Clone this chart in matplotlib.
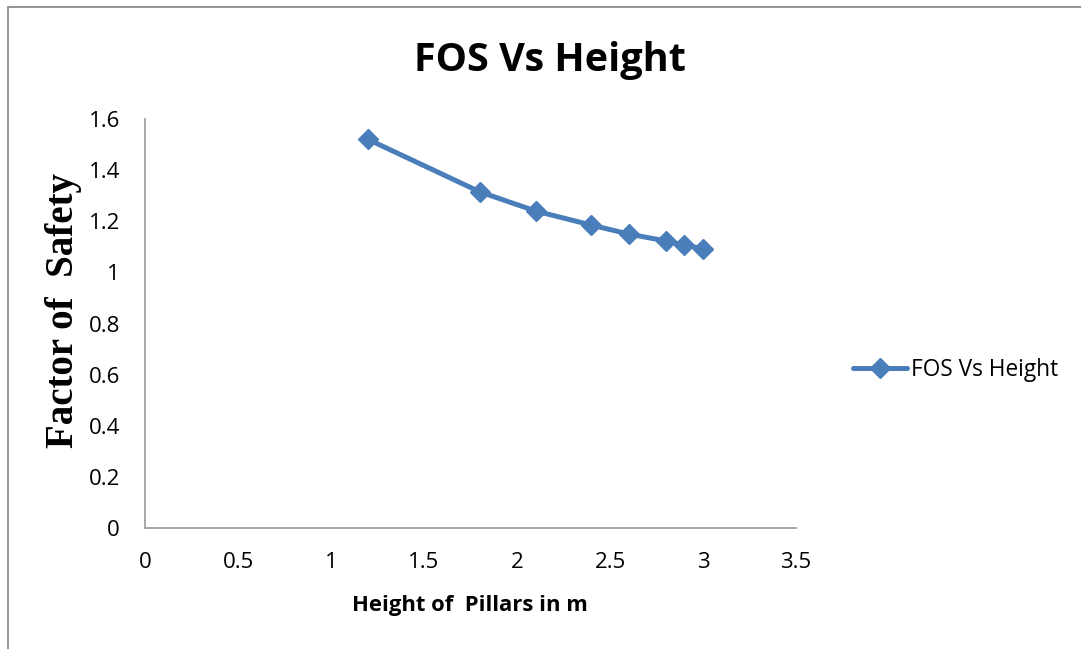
import matplotlib
matplotlib.use("Agg")
import matplotlib.pyplot as plt
from matplotlib.patches import Rectangle

# Pillar height (m) and the computed factor of safety
height_m = [1.2, 1.8, 2.1, 2.4, 2.6, 2.8, 2.9, 3.0]
fos = [1.52, 1.315, 1.24, 1.185, 1.15, 1.123, 1.107, 1.092]

x_ticks = [0, 0.5, 1, 1.5, 2, 2.5, 3, 3.5]
x_tick_labels = ["0", "0.5", "1", "1.5", "2", "2.5", "3", "3.5"]
y_ticks = [0, 0.2, 0.4, 0.6, 0.8, 1.0, 1.2, 1.4, 1.6]
y_tick_labels = ["0", "0.2", "0.4", "0.6", "0.8", "1", "1.2", "1.4", "1.6"]

title = "FOS Vs Height"
series_name = "FOS Vs Height"
x_label = "Height of  Pillars in m"
y_label = "Factor of  Safety"

W, H, DPI = 1081, 649, 100
fig = plt.figure(figsize=(W / DPI, H / DPI), dpi=DPI)
fig.patch.set_facecolor("white")

# chart-area border (open on the right and bottom edges)
border = Rectangle((8 / W, -0.05), 1.2, 1 - 7 / H + 0.05, transform=fig.transFigure,
                   fill=False, edgecolor="#8c8c8c", linewidth=1.3, clip_on=False)
fig.patches.append(border)

ax = fig.add_axes([145 / W, (H - 528) / H, (796 - 145) / W, (528 - 119) / H])

line_color = "#4a7ebb"
ax.plot(height_m, fos, color=line_color, linewidth=3.6, marker="D",
        markersize=10.5, markerfacecolor=line_color, markeredgecolor=line_color,
        label=series_name, solid_joinstyle="round", solid_capstyle="round")

ax.set_xlim(0, 3.5)
ax.set_ylim(0, 1.6)
ax.set_xticks(x_ticks)
ax.set_xticklabels(x_tick_labels)
ax.set_yticks(y_ticks)
ax.set_yticklabels(y_tick_labels)
ax.tick_params(axis="both", length=0, labelsize=16, colors="black")
ax.tick_params(axis="x", pad=17)
ax.tick_params(axis="y", pad=18)
for lab in ax.get_xticklabels() + ax.get_yticklabels():
    lab.set_fontfamily("Open Sans")

for side in ("top", "right"):
    ax.spines[side].set_visible(False)
for side in ("left", "bottom"):
    ax.spines[side].set_color("#a0a0a0")
    ax.spines[side].set_linewidth(1.3)

fig.text(550 / W, 1 - 60 / H, title, ha="center", va="center",
         fontsize=28.5, fontweight="bold", family="Open Sans")
fig.text(470 / W, 1 - 605 / H, x_label, ha="center", va="center",
         fontsize=15.8, fontweight="bold", family="Open Sans")
fig.text(64 / W, 1 - 311 / H, y_label, ha="center", va="center", rotation=90,
         fontsize=28, fontweight="bold", family="Liberation Serif")

leg = ax.legend(loc="center left", bbox_to_anchor=(853 / W, 1 - 370 / H),
                bbox_transform=fig.transFigure, frameon=False,
                prop={"family": "Open Sans", "size": 16.3}, handlelength=2.4,
                handletextpad=0.15, borderaxespad=0, borderpad=0)

fig.savefig("out.png", dpi=DPI)
